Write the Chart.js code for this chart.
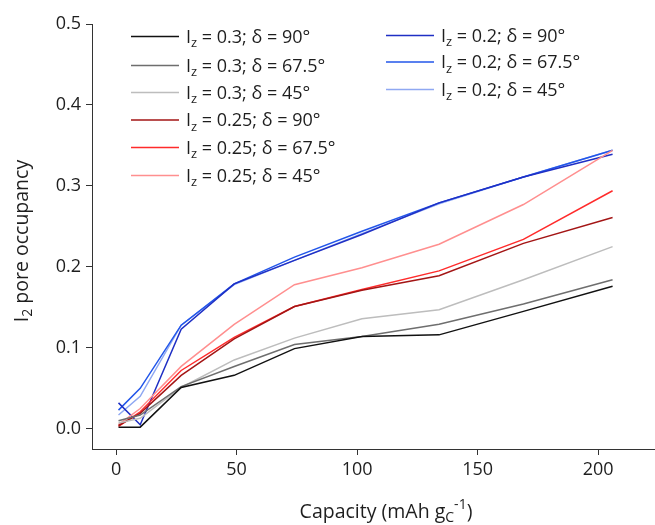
<!DOCTYPE html>
<html>
<head>
<meta charset="utf-8">
<script src="https://cdn.jsdelivr.net/npm/chart.js@4"></script>
<style>
  html, body { margin: 0; padding: 0; background: #fff; }
</style>
</head>
<body>
<canvas id="occChart" width="655" height="525"></canvas>
<script>
// Capacity (mAh gC-1) sample points
const capacity = [1, 10, 27, 49, 74, 102, 134, 169, 206];

// I2 pore occupancy, one array per (Iz, delta) run
const iz030d90 = [0.002, 0.002, 0.051, 0.066, 0.099, 0.114, 0.116, 0.145, 0.176];
const iz030d675 = [0.010, 0.017, 0.052, 0.077, 0.104, 0.114, 0.129, 0.154, 0.184];
const iz030d45 = [0.007, 0.013, 0.051, 0.085, 0.112, 0.136, 0.147, 0.184, 0.225];
const iz025d90 = [0.004, 0.019, 0.066, 0.111, 0.151, 0.171, 0.189, 0.229, 0.261];
const iz025d675 = [0.003, 0.021, 0.072, 0.113, 0.151, 0.172, 0.195, 0.234, 0.294];
const iz025d45 = [0.005, 0.025, 0.077, 0.129, 0.178, 0.199, 0.228, 0.277, 0.344];
const iz020d90 = [0.032, 0.005, 0.123, 0.179, 0.208, 0.240, 0.279, 0.311, 0.339];
const iz020d675 = [0.023, 0.050, 0.128, 0.179, 0.212, 0.244, 0.279, 0.311, 0.344];
const iz020d45 = [0.017, 0.040, 0.128, 0.178, 0.208, 0.241, 0.278, 0.311, 0.344];

const seriesLabels = [
    'I_{z} = 0.3; δ = 90°', 'I_{z} = 0.3; δ = 67.5°', 'I_{z} = 0.3; δ = 45°',
    'I_{z} = 0.25; δ = 90°', 'I_{z} = 0.25; δ = 67.5°', 'I_{z} = 0.25; δ = 45°',
    'I_{z} = 0.2; δ = 90°', 'I_{z} = 0.2; δ = 67.5°', 'I_{z} = 0.2; δ = 45°'
];
const seriesValues = [iz030d90, iz030d675, iz030d45, iz025d90, iz025d675, iz025d45, iz020d90, iz020d675, iz020d45];
const seriesColors = ['#111111', '#6e6e6e', '#bdbdbd', '#a31515', '#ff2b2b', '#ff8f8f', '#1f2fc4', '#2256ea', '#8fa8f2'];

const xTicks = [0, 50, 100, 150, 200];
const yTicks = [0.0, 0.1, 0.2, 0.3, 0.4, 0.5];

const FONT = '"Open Sans", "Noto Sans", sans-serif';
const TEXT = '#1e1e1e';

// draws text with _{sub} and ^{sup} pieces, returns width
function drawRich(ctx, str, x, y, size, measureOnly) {
    const parts = str.split(/(_\{[^}]*\}|\^\{[^}]*\})/).filter(p => p.length);
    let cx = x;
    parts.forEach(p => {
        let txt = p, fs = size, dy = 0;
        if (p.startsWith('_{')) { txt = p.slice(2, -1); fs = size * 0.72; dy = size * 0.33; }
        else if (p.startsWith('^{')) { txt = p.slice(2, -1); fs = size * 0.72; dy = -size * 0.38; }
        ctx.font = fs + 'px ' + FONT;
        if (!measureOnly) ctx.fillText(txt, cx, y + dy);
        cx += ctx.measureText(txt).width;
    });
    return cx - x;
}

// legend rows: left column then right column
const legendRows = [
    [131, 36.5], [131, 65.5], [131, 92.5], [131, 120], [131, 147.5], [131, 175.5],
    [386, 35.5], [386, 62], [386, 89.5]
];

const textPlugin = {
    id: 'richText',
    afterDraw(chart) {
        const ctx = chart.ctx;
        ctx.save();
        ctx.fillStyle = TEXT;
        ctx.textBaseline = 'middle';
        ctx.textAlign = 'left';

        // legend
        seriesLabels.forEach((lab, i) => {
            const [lx, ly] = legendRows[i];
            ctx.strokeStyle = seriesColors[i];
            ctx.lineWidth = 1.5;
            ctx.beginPath();
            ctx.moveTo(lx, ly);
            ctx.lineTo(lx + 48, ly);
            ctx.stroke();
            ctx.fillStyle = TEXT;
            drawRich(ctx, lab, lx + 55, ly + 1, 18);
        });

        // x axis title
        const xt = 'Capacity (mAh g_{C}^{-1})';
        const xw = drawRich(ctx, xt, 0, 0, 19.5, true);
        drawRich(ctx, xt, 386 - xw / 2, 512, 19.5);

        // y axis title
        const yt = 'I_{2} pore occupancy';
        ctx.translate(22, 241);
        ctx.rotate(-Math.PI / 2);
        const yw = drawRich(ctx, yt, 0, 0, 19.5, true);
        drawRich(ctx, yt, -yw / 2, 0, 19.5);
        ctx.restore();
    }
};

const ctx = document.getElementById('occChart').getContext('2d');
const occChart = new Chart(ctx, {
    type: 'line',
    data: {
        datasets: seriesValues.map((vals, i) => ({
            label: seriesLabels[i],
            data: vals.map((v, j) => ({ x: capacity[j], y: v })),
            borderColor: seriesColors[i],
            borderWidth: 1.5,
            pointRadius: 0,
            fill: false,
            tension: 0
        }))
    },
    options: {
        responsive: false,
        animation: false,
        devicePixelRatio: 1,
        layout: { padding: { top: 24, right: 0, left: 0, bottom: 0 } },
        plugins: {
            legend: { display: false },
            tooltip: { enabled: false }
        },
        scales: {
            x: {
                type: 'linear',
                min: -10,
                max: 223.6,
                afterBuildTicks: axis => { axis.ticks = xTicks.map(v => ({ value: v })); },
                afterFit: axis => { axis.height = 76; },
                ticks: { font: { size: 18, family: FONT }, color: TEXT, padding: 4, maxRotation: 0 },
                grid: { drawOnChartArea: false, drawTicks: true, tickLength: 6, color: '#333', lineWidth: 1 },
                border: { color: '#333', width: 1 }
            },
            y: {
                type: 'linear',
                min: -0.025,
                max: 0.5,
                afterBuildTicks: axis => { axis.ticks = yTicks.map(v => ({ value: v })); },
                afterFit: axis => { axis.width = 92; },
                ticks: {
                    font: { size: 18, family: FONT }, color: TEXT, padding: 5,
                    callback: v => v.toFixed(1)
                },
                grid: { drawOnChartArea: false, drawTicks: true, tickLength: 6, color: '#333', lineWidth: 1 },
                border: { color: '#333', width: 1 }
            }
        }
    },
    plugins: [textPlugin]
});
</script>
</body>
</html>
